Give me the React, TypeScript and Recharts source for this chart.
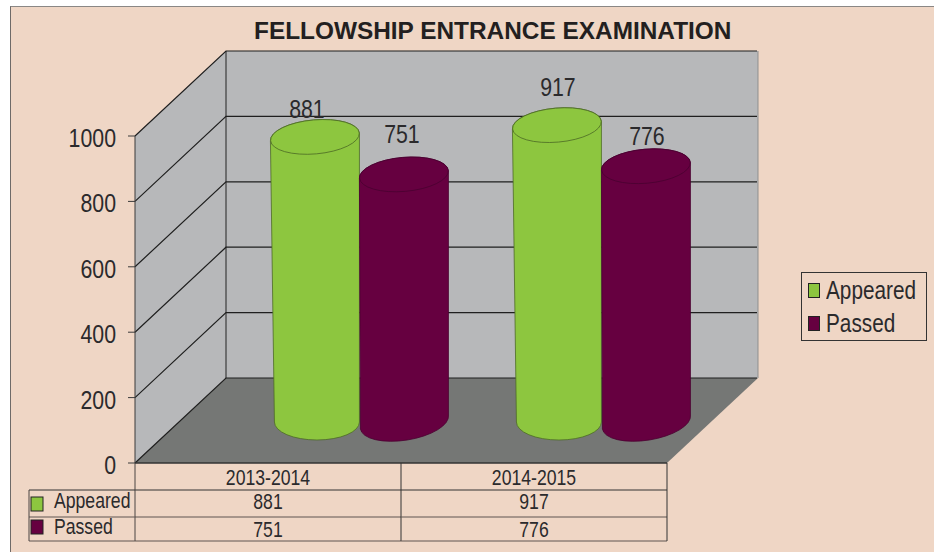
import { BarChart, Bar, XAxis, YAxis, LabelList, Legend, ReferenceArea, ReferenceLine } from "recharts";

const periods = ["2013-2014", "2014-2015"];
const appeared = [881, 917];
const passed = [751, 776];
const yTicks = [0, 200, 400, 600, 800, 1000];

const rows = periods.map((period, i) => ({ period, appeared: appeared[i], passed: passed[i] }));

const peach = "#efd6c5";
const wall = "#b7b8ba";
const floor = "#757775";
const green = "#8dc63f";
const plum = "#660040";
const ink = "#2b2a2c";
const sans = "'Liberation Sans', Arial, sans-serif";
// the reference uses a condensed face, which is not installed here
const squeeze = 0.82;

// how far the back wall sits behind the front edge
const depthX = 91;
const depthY = 85;
// cylinders stand half way back on the floor
const lift = 41;

// the data labels in the reference are not placed evenly: [dx, rise]
const appearedLabelShift = [[-8, 57], [1, 67]];
const passedLabelShift = [[-2, 74], [1, 64]];

function Squeezed({ x, y, size, anchor = "middle", children }: any) {
  return (
    <text
      transform={`translate(${x} ${y}) scale(${squeeze} 1)`}
      textAnchor={anchor}
      fontFamily={sans}
      fontSize={size}
      fill={ink}
    >
      {children}
    </text>
  );
}

function Walls({ x, y, width, height }: any) {
  const bottom = y + height;
  const frontRight = x + width;
  const right = frontRight + depthX;
  return (
    <g>
      <polygon points={`${x},${y} ${x + depthX},${y - depthY} ${x + depthX},${bottom - depthY} ${x},${bottom}`} fill={wall} />
      <rect x={x + depthX} y={y - depthY} width={width} height={height} fill={wall} />
      <polygon points={`${x},${bottom} ${x + depthX},${bottom - depthY} ${right},${bottom - depthY} ${frontRight},${bottom}`} fill={floor} />
      <line x1={x + depthX} y1={y - depthY} x2={x + depthX} y2={bottom - depthY} stroke="#222" />
      <line x1={right} y1={y - depthY} x2={right} y2={bottom - depthY} stroke="#8f8f8f" />
    </g>
  );
}

function WallLine({ x1, y1, x2 }: any) {
  return (
    <polyline
      points={`${x1},${y1} ${x1 + depthX},${y1 - depthY} ${x2},${y1 - depthY}`}
      fill="none"
      stroke="#1f1f1f"
      strokeWidth={1.2}
    />
  );
}

function Cylinder(props: any) {
  const { x, y, width, height, fill, topRise, baseTilt, inset, edge } = props;
  const rx = width / 2;
  const cx = x + rx;
  const cyTop = y - topRise;
  const cyBase = y + height - lift;
  const tiltTop = -5;
  const ryTop = 17;
  const ryBase = 18;
  const dyTop = rx * Math.sin((tiltTop * Math.PI) / 180);
  const dyBase = rx * Math.sin((baseTilt * Math.PI) / 180);
  const body = [
    `M${x},${cyTop - dyTop}`,
    `L${x + inset},${cyBase - dyBase}`,
    `A${rx - inset / 2},${ryBase} ${baseTilt} 0 0 ${x + width},${cyBase + dyBase}`,
    `L${x + width},${cyTop + dyTop}`,
    `A${rx},${ryTop} ${tiltTop} 0 0 ${x},${cyTop - dyTop}`,
    "Z",
  ].join(" ");
  return (
    <g>
      <path d={body} fill={fill} stroke={edge} strokeWidth={0.8} />
      <ellipse
        cx={cx}
        cy={cyTop}
        rx={rx}
        ry={ryTop}
        fill={fill}
        stroke={edge}
        strokeWidth={0.8}
        transform={`rotate(${tiltTop} ${cx} ${cyTop})`}
      />
    </g>
  );
}

const ValueLabel = (shift: number[][]) => (props: any) => {
  const { x, y, width, value, index } = props;
  return (
    <Squeezed x={x + width / 2 + shift[index][0]} y={y - shift[index][1]} size={26}>
      {value}
    </Squeezed>
  );
};

function Swatch({ x, y, fill }: any) {
  return <rect x={x} y={y} width={12} height={14} fill={fill} stroke="#222" strokeWidth={1} />;
}

function YTick({ x, y, payload }: any) {
  return (
    <Squeezed x={x} y={y + 11} size={26} anchor="end">
      {payload.value}
    </Squeezed>
  );
}

// the data table below the floor is drawn through the category axis ticks
function TableTick({ x, y, payload, index }: any) {
  const half = 133;
  const i = payload?.index ?? index;
  const left = x - half;
  const right = x + half;
  return (
    <g>
      <Squeezed x={x} y={y + 22} size={21.5}>{payload.value}</Squeezed>
      <Squeezed x={x} y={y + 46} size={21.5}>{appeared[i]}</Squeezed>
      <Squeezed x={x} y={y + 74} size={21.5}>{passed[i]}</Squeezed>
      <line x1={left} y1={y} x2={right} y2={y} stroke="#333" strokeWidth={1.5} />
      <line x1={left} y1={y + 27} x2={right} y2={y + 27} stroke="#333" />
      <line x1={left} y1={y + 54} x2={right} y2={y + 54} stroke="#5f5551" />
      <line x1={left} y1={y + 78} x2={right} y2={y + 78} stroke="#5f5551" />
      <line x1={right} y1={y} x2={right} y2={y + 78} stroke="#333" />
      {i === 0 && (
        <g>
          <line x1={left} y1={y} x2={left} y2={y + 78} stroke="#4a4442" />
          <line x1={left - 106} y1={y + 27} x2={left} y2={y + 27} stroke="#333" />
          <line x1={left - 106} y1={y + 54} x2={left} y2={y + 54} stroke="#5f5551" />
          <line x1={left - 106} y1={y + 78} x2={left} y2={y + 78} stroke="#5f5551" />
          <line x1={left - 106} y1={y + 27} x2={left - 106} y2={y + 78} stroke="#4a4442" />
          <Swatch x={left - 104} y={y + 34} fill={green} />
          <Swatch x={left - 104} y={y + 57} fill={plum} />
          <Squeezed x={left - 81} y={y + 45} size={21.5} anchor="start">Appeared</Squeezed>
          <Squeezed x={left - 81} y={y + 71} size={21.5} anchor="start">Passed</Squeezed>
        </g>
      )}
    </g>
  );
}

function LegendBox({ payload }: any) {
  return (
    <div
      style={{
        boxSizing: "border-box",
        width: 126,
        height: 69,
        border: "1px solid #333",
        padding: "1px 0 0 6px",
        fontFamily: sans,
        fontSize: 25,
        lineHeight: "33px",
        color: ink,
      }}
    >
      {(payload || []).map((item: any) => (
        <div key={item.value} style={{ display: "flex", alignItems: "center", whiteSpace: "nowrap" }}>
          <span
            style={{
              display: "inline-block",
              flexShrink: 0,
              boxSizing: "border-box",
              width: 12,
              height: 15,
              marginRight: 6,
              background: item.color,
              border: "1px solid #222",
            }}
          />
          <span style={{ display: "inline-block", transform: "scaleX(0.83)", transformOrigin: "left center" }}>
            {item.value}
          </span>
        </div>
      ))}
    </div>
  );
}

export default function App() {
  return (
    <div style={{ position: "absolute", left: 0, top: 0, width: 934, height: 552, background: "#fff", overflow: "hidden" }}>
      <div
        style={{
          position: "absolute",
          left: 10,
          top: 6,
          width: 930,
          height: 552,
          background: peach,
          borderLeft: "1px solid #6e6a68",
          borderTop: "1px solid #8a8785",
        }}
      />
      <div
        style={{
          position: "absolute",
          left: 254,
          top: 16,
          fontFamily: sans,
          fontWeight: 700,
          fontSize: 24.4,
          lineHeight: "30px",
          color: "#231f20",
          whiteSpace: "nowrap",
        }}
      >
        FELLOWSHIP ENTRANCE EXAMINATION
      </div>
      <BarChart
        width={934}
        height={552}
        data={rows}
        margin={{ top: 136, right: 177, bottom: 0, left: 0 }}
        barCategoryGap="13.4%"
        barGap={0}
        style={{ position: "absolute", left: 0, top: 0 }}
      >
        <ReferenceArea xAxisId="table" y1={0} y2={1000} shape={Walls} zIndex={-30} ifOverflow="visible" />
        {yTicks.map((t) => (
          <ReferenceLine key={t} xAxisId="table" y={t} shape={WallLine} zIndex={-20} />
        ))}
        <XAxis
          xAxisId="table"
          dataKey="period"
          height={89}
          padding={{ left: 0, right: 90 }}
          axisLine={false}
          tickLine={false}
          tickSize={0}
          tickMargin={0}
          interval={0}
          tick={<TableTick />}
        />
        <XAxis xAxisId="bars" dataKey="period" hide height={0} padding={{ left: 103, right: 35 }} />
        <YAxis
          width={135}
          domain={[0, 1000]}
          ticks={yTicks}
          interval={0}
          tickSize={7}
          tickMargin={12}
          stroke="#3a3a3a"
          tick={<YTick />}
        />
        <Legend
          layout="horizontal"
          verticalAlign="middle"
          content={<LegendBox />}
          wrapperStyle={{ left: 801, top: 272, width: 126, height: 69, bottom: "auto", right: "auto" }}
        />
        <Bar
          xAxisId="bars"
          dataKey="appeared"
          name="Appeared"
          fill={green}
          isAnimationActive={false}
          shape={(p: any) => <Cylinder {...p} topRise={38} baseTilt={0} inset={4} edge="#4d6b26" />}
        >
          <LabelList dataKey="appeared" content={ValueLabel(appearedLabelShift)} />
        </Bar>
        <Bar
          xAxisId="bars"
          dataKey="passed"
          name="Passed"
          fill={plum}
          isAnimationActive={false}
          shape={(p: any) => <Cylinder {...p} topRise={43} baseTilt={-9} inset={1} edge="#4a0030" />}
        >
          <LabelList dataKey="passed" content={ValueLabel(passedLabelShift)} />
        </Bar>
      </BarChart>
    </div>
  );
}
